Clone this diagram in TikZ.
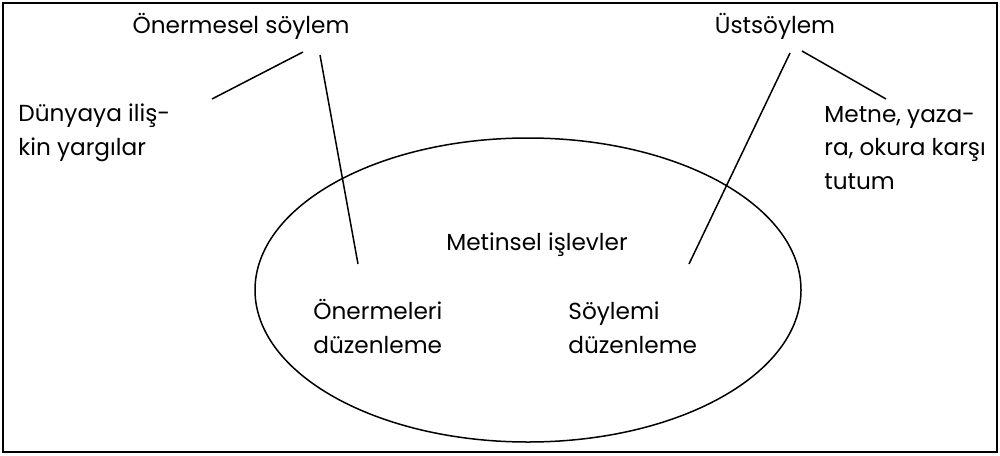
\documentclass[tikz,border=0pt]{standalone}
\usepackage{fontspec}
\setmainfont{Poppins}

\begin{document}
\begin{tikzpicture}[x=0.5pt,y=-0.5pt,
  lbl/.style={inner sep=0pt,font=\fontsize{11.6}{16.75}\selectfont},
  blk/.style={inner sep=0pt,align=left,font=\fontsize{11.6}{16.75}\selectfont},
  ln/.style={draw=black,line width=0.75pt}]
  \useasboundingbox (0,0) rectangle (1000,455);
  \draw[line width=1pt] (3,3) rectangle (997,452);
  % the ellipse of textual functions
  \draw[ln] (528,290) ellipse [x radius=273,y radius=152];
  \node[lbl,anchor=base] (prop) at (241,33) {Önermesel söylem};
  \node[lbl,anchor=base] (meta) at (775,33) {Üstsöylem};
  \node[lbl,anchor=base] (func) at (537,250) {Metinsel işlevler};
  % base of a block is its last line
  \node[blk,anchor=base west] (world) at (18,155) {Dünyaya iliş-\\kin yargılar};
  \node[blk,anchor=base west] (stance) at (824,189) {Metne, yaza-\\ra, okura karşı\\tutum};
  \node[blk,anchor=base west] (orgp) at (313,353) {Önermeleri\\düzenleme};
  \node[blk,anchor=base west] (orgd) at (568,353) {Söylemi\\düzenleme};
  \coordinate (p1) at (303,52);  \coordinate (w1) at (212,99);
  \coordinate (p2) at (320,55);  \coordinate (o1) at (358,264);
  \coordinate (m1) at (790,53);  \coordinate (o2) at (689,264);
  \coordinate (m2) at (802,51);  \coordinate (s1) at (886,99);
  \draw[ln] (p1) -- (w1);
  \draw[ln] (p2) -- (o1);
  \draw[ln] (m1) -- (o2);
  \draw[ln] (m2) -- (s1);
\end{tikzpicture}
\end{document}
